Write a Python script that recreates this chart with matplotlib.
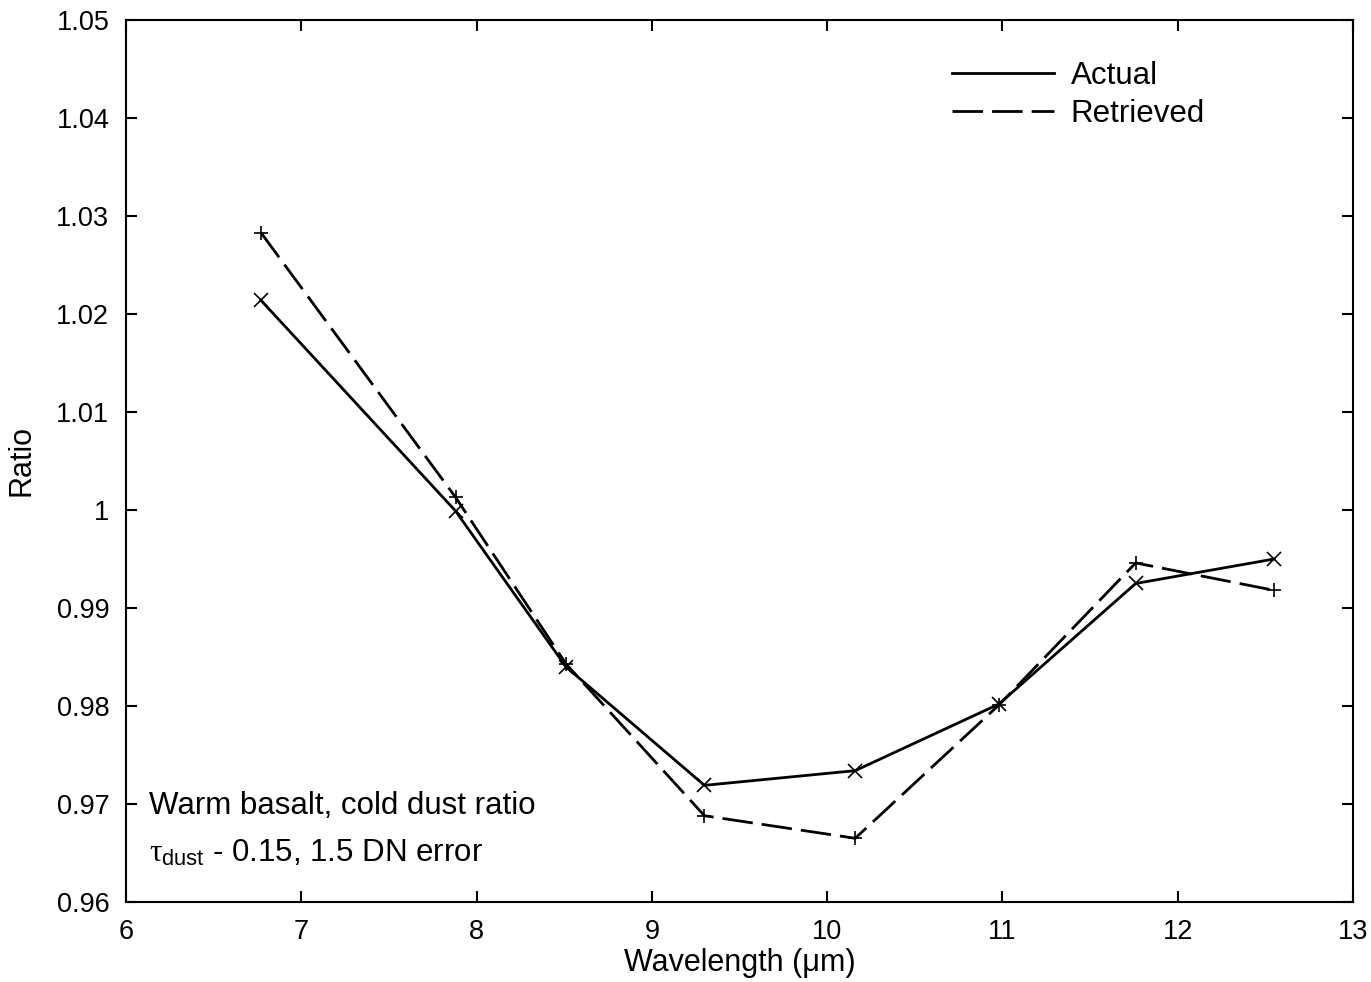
import matplotlib
matplotlib.use("Agg")
import matplotlib.pyplot as plt
from matplotlib.lines import Line2D
from matplotlib.ticker import FixedLocator, FuncFormatter

plt.rcParams['font.family'] = ['Liberation Sans', 'DejaVu Sans']
plt.rcParams['mathtext.fontset'] = 'custom'
plt.rcParams['mathtext.rm'] = 'Liberation Sans'
plt.rcParams['mathtext.it'] = 'Liberation Serif'
plt.rcParams['lines.scale_dashes'] = False

wavelength = [6.77, 7.88, 8.51, 9.30, 10.16, 10.98, 11.76, 12.55]
actual = [1.0214, 0.9999, 0.9840, 0.9719, 0.9734, 0.9802, 0.9925, 0.9950]
retrieved = [1.0283, 1.0013, 0.9843, 0.9688, 0.9665, 0.9801, 0.9946, 0.9918]
xticks = [6, 7, 8, 9, 10, 11, 12, 13]
yticks = [0.96, 0.97, 0.98, 0.99, 1.00, 1.01, 1.02, 1.03, 1.04, 1.05]

DASH = (0, (22, 6.5))

fig = plt.figure(figsize=(13.71, 9.82), dpi=100)
ax = fig.add_axes([0.0919, 0.0815, 0.8950, 0.8981])

ax.plot(wavelength, actual, color='black', lw=2.0, marker='x', ms=10,
        mew=1.2)
ax.plot(wavelength, retrieved, color='black', lw=2.0, marker='+', ms=10,
        mew=1.2, linestyle=DASH)

ax.set_xlim(6, 13)
ax.set_ylim(0.96, 1.05)
ax.xaxis.set_major_locator(FixedLocator(xticks))
ax.yaxis.set_major_locator(FixedLocator(yticks))
ax.yaxis.set_major_formatter(FuncFormatter(lambda v, p: f"{v:.2f}".rstrip('0').rstrip('.')))
ax.tick_params(direction='in', length=8, width=1.5, labelsize=19.5,
               top=True, right=True)
ax.tick_params(axis='y', pad=12)
ax.tick_params(axis='x', pad=12)
for s in ax.spines.values():
    s.set_linewidth(1.5)

ax.set_xlabel('Wavelength (\u03bcm)', fontsize=22, labelpad=2.5)
ax.set_ylabel('Ratio', fontsize=22, labelpad=14)

handles = [Line2D([], [], color='black', lw=2.0),
           Line2D([], [], color='black', lw=2.0, linestyle=DASH)]
leg = ax.legend(handles, ['Actual', 'Retrieved'], loc='upper left',
                bbox_to_anchor=(952 / 1371, 1 - 61 / 982),
                bbox_transform=fig.transFigure, frameon=False,
                fontsize=22.5, handlelength=3.25, handletextpad=0.55,
                labelspacing=0.25, borderpad=0, borderaxespad=0)

ax.text(0.019, 0.109, 'Warm basalt, cold dust ratio', transform=ax.transAxes,
        fontsize=22.5, va='center', ha='left')
ax.text(0.019, 0.055, r'$\tau_{\mathrm{dust}}$ - 0.15, 1.5 DN error',
        transform=ax.transAxes, fontsize=22.5, va='center', ha='left')

fig.savefig('out.png', dpi=100)
